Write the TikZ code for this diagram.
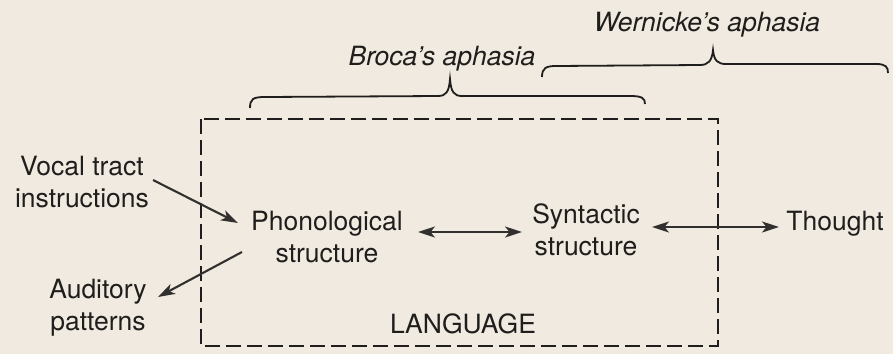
\documentclass[tikz,border=0pt]{standalone}
\usepackage{fontspec}
\setmainfont{TeX Gyre Heros}
\usetikzlibrary{arrows.meta}
\definecolor{paper}{RGB}{240,234,224}
\definecolor{ink}{RGB}{32,30,28}
\definecolor{arrowink}{RGB}{50,48,46}
\begin{document}
\begin{tikzpicture}[x=1pt,y=-1pt,
  lbl/.style={inner sep=0pt,text=ink,font=\fontsize{26.5}{32}\selectfont,align=center,anchor=base},
  ital/.style={lbl,font=\fontsize{26.5}{32}\selectfont\itshape},
  conn/.style={draw=arrowink,line width=2.1pt,-{Stealth[length=17pt,width=11pt,inset=4.5pt]}},
  bothconn/.style={draw=arrowink,line width=2.1pt,{Stealth[length=17pt,width=11pt,inset=4.5pt]}-{Stealth[length=17pt,width=11pt,inset=4.5pt]}},
  bracepath/.style={draw=ink,line width=1.8pt},
  langbox/.style={draw=ink,line width=2pt,dash pattern=on 15pt off 6pt}
]
\fill[paper] (0,0) rectangle (893,354);
\useasboundingbox (0,0) rectangle (893,354);

% dashed LANGUAGE box
\draw[langbox] (201,119) rectangle (718,346);

% labels (base anchor = baseline of last line)
\node[ital] (broca) at (442,65) {Broca's aphasia};
\node[ital] (wern) at (707,31) {Wernicke's aphasia};
\node[lbl] (vocal) at (82,207) {Vocal tract\\instructions};
\node[lbl] (audit) at (98,330) {Auditory\\patterns};
\node[lbl] (phon) at (327,262) {Phonological\\structure};
\node[lbl] (syn) at (586,255) {Syntactic\\structure};
\node[lbl] (thought) at (835,230) {Thought};
\node[lbl] (lang) at (463,333) {LANGUAGE};

% braces
\draw[bracepath] (250,108) .. controls (250,99) and (253,97) .. (265,97)
  -- (438,96) .. controls (446,96) and (449,92) .. (450,79)
  .. controls (451,92) and (454,96) .. (462,96)
  -- (630,96) .. controls (642,96) and (645,98) .. (645,104);
\draw[bracepath] (542,77) .. controls (542,68) and (546,66) .. (556,66)
  -- (700,65) .. controls (708,65) and (712,61) .. (713,50)
  .. controls (714,61) and (718,64) .. (726,64)
  -- (876,64) .. controls (886,64) and (888,67) .. (888,73);

% connector end points
\coordinate (vocalout) at (153,180);
\coordinate (phonin) at (238,223);
\coordinate (phonout) at (242,252);
\coordinate (auditin) at (158,297);
\coordinate (phonR) at (418,232);
\coordinate (synL) at (522,232);
\coordinate (synR) at (652,227);
\coordinate (thoughtL) at (779,227);

\draw[conn] (vocalout) -- (phonin);
\draw[conn] (phonout) -- (auditin);
\draw[bothconn] (phonR) -- (synL);
\draw[bothconn] (synR) -- (thoughtL);
\end{tikzpicture}
\end{document}
